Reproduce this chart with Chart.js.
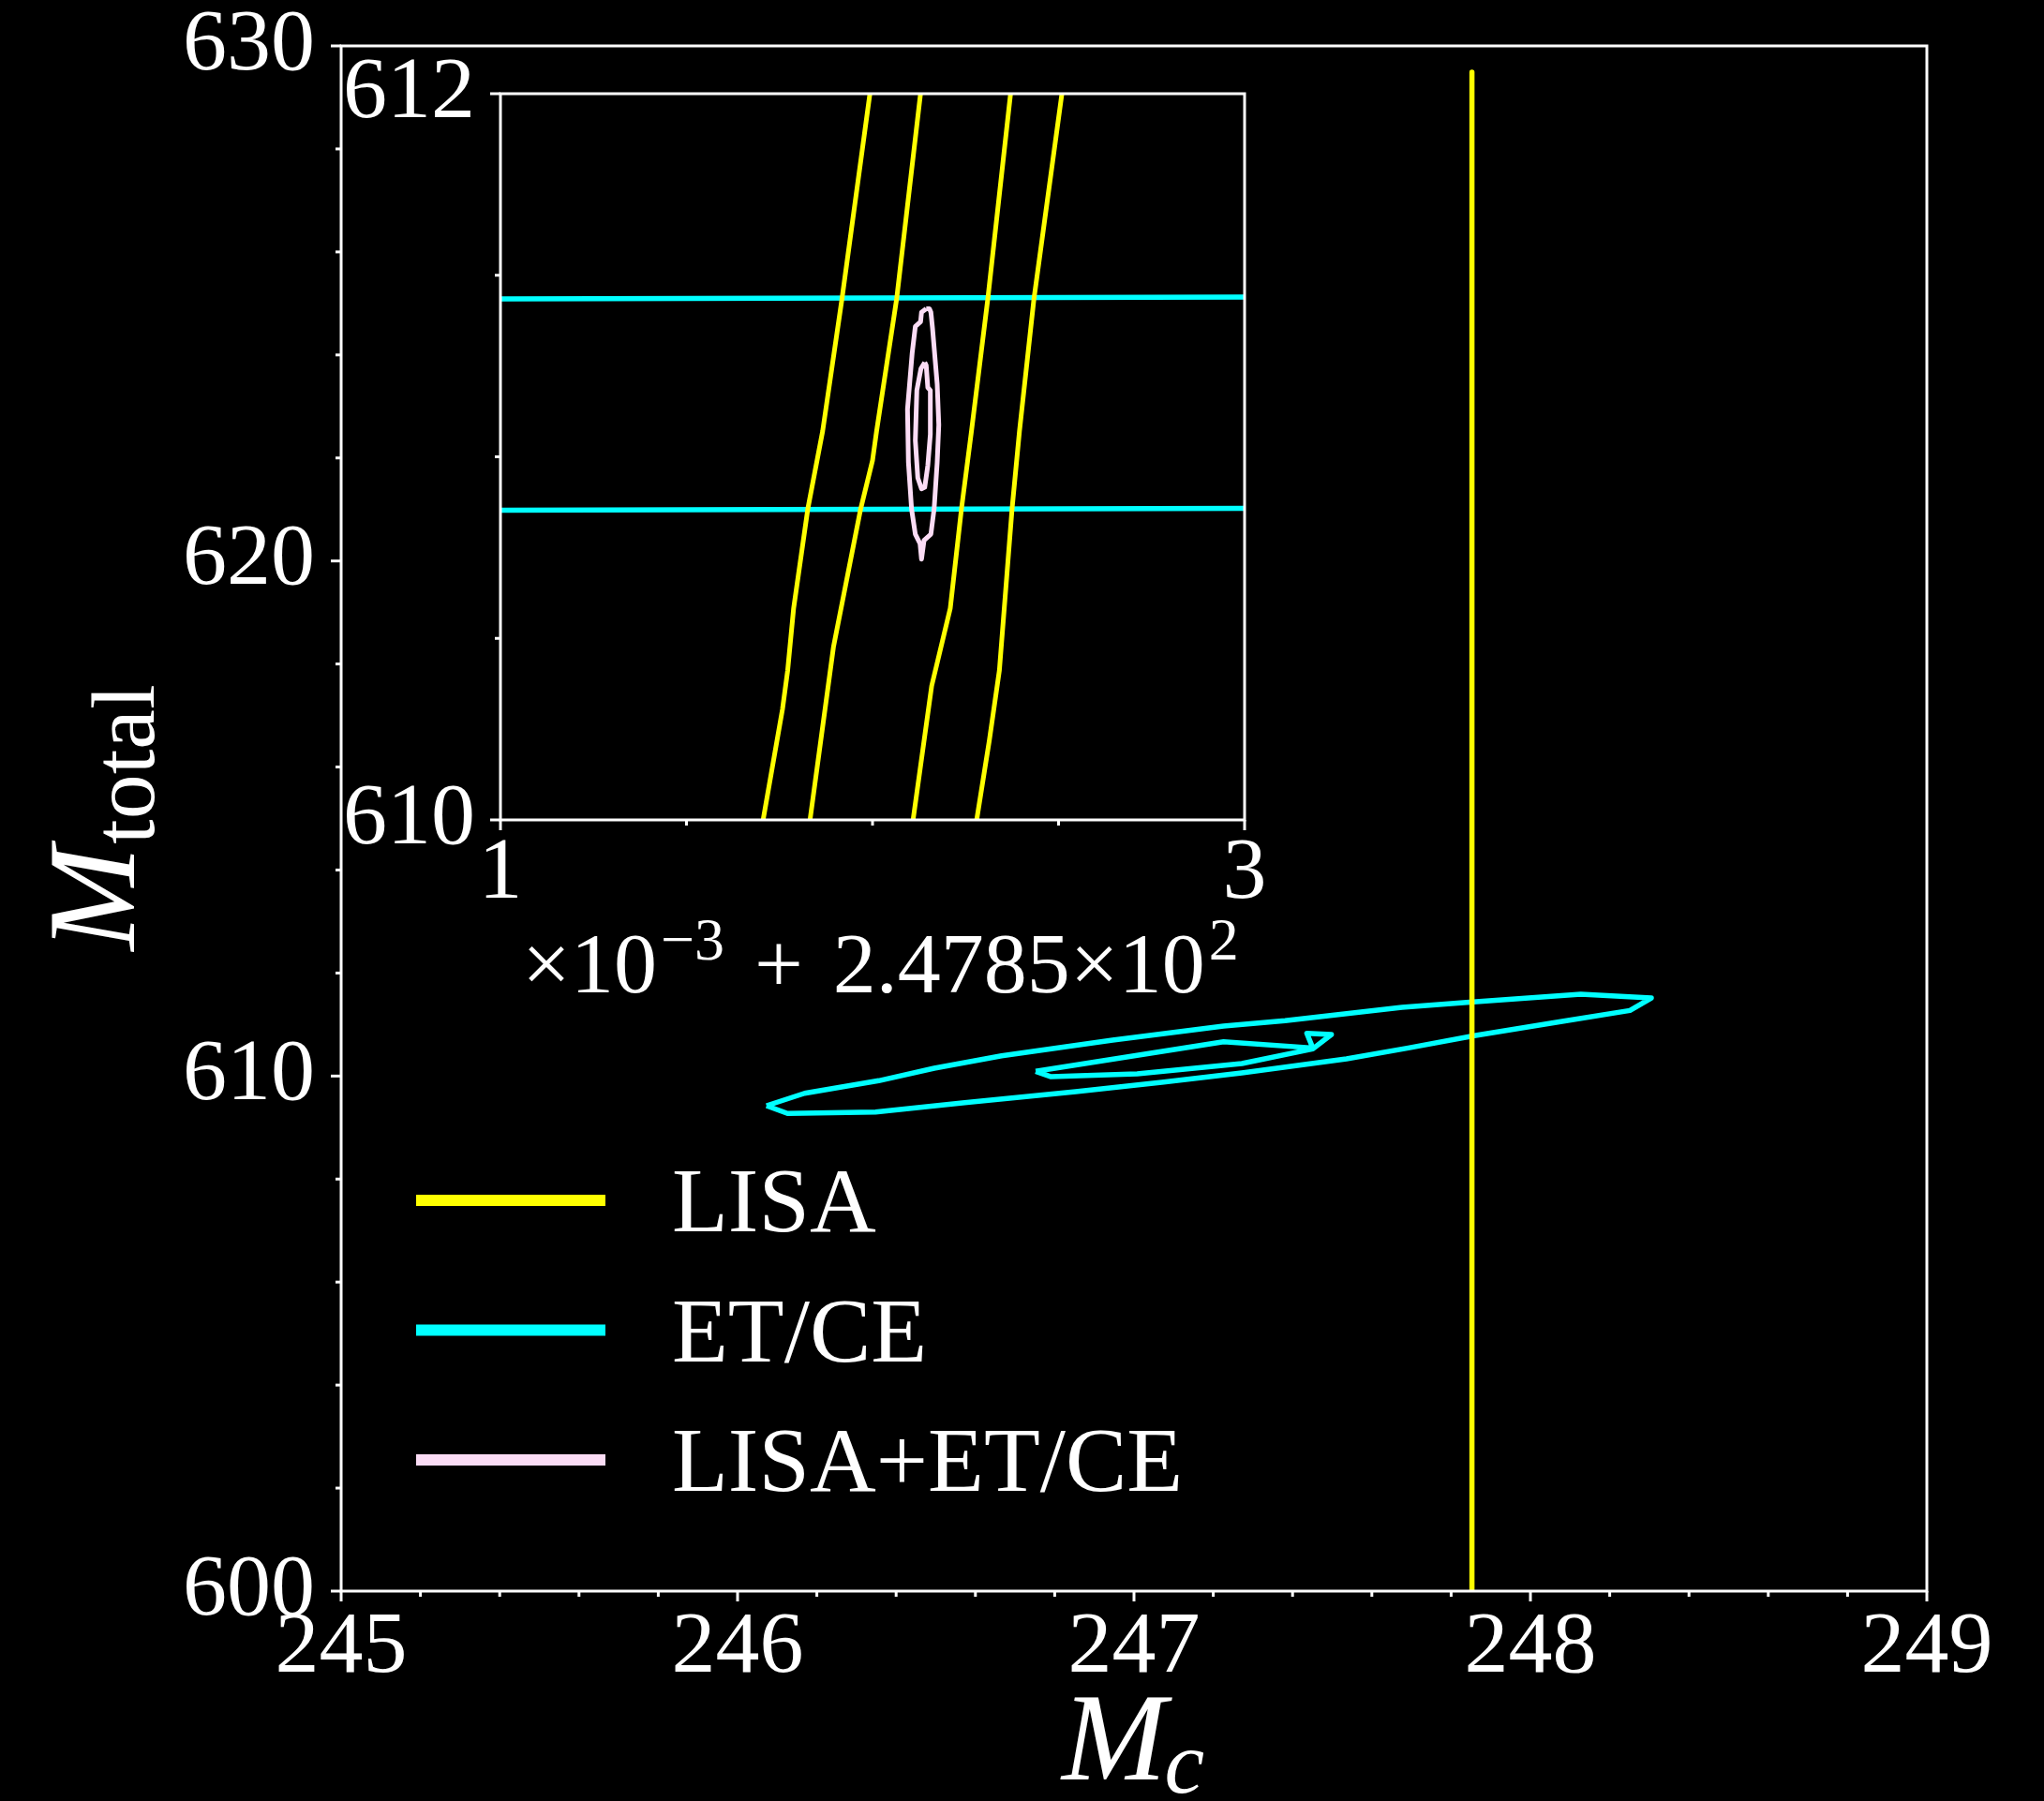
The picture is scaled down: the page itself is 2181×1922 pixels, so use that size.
<!DOCTYPE html>
<html>
<head>
<meta charset="utf-8">
<script src="https://cdn.jsdelivr.net/npm/chart.js@4.4.1/dist/chart.umd.min.js"></script>
<style>
  html, body { margin: 0; padding: 0; background: #000; overflow: hidden; }
  #wrap { position: relative; width: 2181px; height: 1922px; }
  #wrap canvas { position: absolute; left: 0; top: 0; }
</style>
</head>
<body>
<div id="wrap">
  <canvas id="mainPlot" width="2181" height="1922"></canvas>
  <canvas id="zoomPlot" width="2181" height="1922"></canvas>
</div>
<script>
// ---------------- series colours / names ----------------
const seriesNames  = ['LISA', 'ET/CE', 'LISA+ET/CE'];
const seriesColors = ['#ffff00', '#00ffff', '#fbdcf5'];

// ---------------- main panel: M_c vs M_total ----------------
const mcRange   = [245, 249];
const mtotRange = [600, 630];

// LISA: an extremely narrow band in M_c
const lisaMainMc = [247.8525, 247.8525];
const lisaMainMt = [629.49, 590.0];

// ET/CE outer contour
const etceOuterMc = [246.073, 246.169, 246.356, 246.496, 246.666, 246.946, 247.226, 247.381,
                     247.676, 247.847, 248.127, 248.305, 248.251, 248.080, 247.862, 247.692,
                     247.536, 247.272, 247.070, 246.853, 246.573, 246.348, 246.126, 246.073];
const etceOuterMt = [609.424, 609.665, 609.909, 610.151, 610.393, 610.697, 610.969, 611.073,
                     611.333, 611.436, 611.587, 611.515, 611.273, 611.060, 610.787, 610.545,
                     610.333, 610.060, 609.878, 609.696, 609.484, 609.302, 609.273, 609.424];

// ET/CE inner contour
const etceInnerMc = [246.752, 247.226, 247.451, 247.436, 247.498, 247.451, 247.272, 247.008, 246.791, 246.752];
const etceInnerMt = [610.091, 610.666, 610.545, 610.829, 610.806, 610.527, 610.242, 610.042, 609.987, 610.091];

// ---------------- inset: M_c in units of 1e-3 above 247.85 ----------------
const insetMcRange   = [1, 3];
const insetMtRange   = [610, 612];
const insetOffsetExp = -3;
const insetOffset    = '2.4785';
const insetOffsetPow = 2;

// LISA contour edges
const lisaZoom1Mc = [1.993, 1.918, 1.866, 1.826, 1.788, 1.772, 1.758, 1.706];
const lisaZoom1Mt = [612.0, 611.436, 611.071, 610.856, 610.583, 610.412, 610.305, 610.0];
const lisaZoom2Mc = [2.129, 2.065, 2.011, 2.000, 1.968, 1.895, 1.832];
const lisaZoom2Mt = [612.0, 611.436, 611.071, 610.990, 610.856, 610.476, 610.0];
const lisaZoom3Mc = [2.371, 2.310, 2.266, 2.239, 2.209, 2.159, 2.109];
const lisaZoom3Mt = [612.0, 611.436, 611.071, 610.856, 610.583, 610.369, 610.0];
const lisaZoom4Mc = [2.509, 2.434, 2.395, 2.375, 2.341, 2.314, 2.280];
const lisaZoom4Mt = [612.0, 611.436, 611.071, 610.856, 610.412, 610.219, 610.0];

// ET/CE contour edges crossing the inset
const etceZoomUpperMc = [1, 3];
const etceZoomUpperMt = [611.435, 611.440];
const etceZoomLowerMc = [1, 3];
const etceZoomLowerMt = [610.853, 610.858];

// combined LISA+ET/CE contours
const jointOuterMc = [2.1443, 2.1317, 2.1292, 2.1151, 2.1066, 2.0940, 2.0965, 2.1050, 2.1151, 2.1277, 2.1317,
                      2.1385, 2.1569, 2.1655, 2.1738, 2.1781, 2.1738, 2.1612, 2.1569, 2.1529, 2.1443];
const jointOuterMt = [611.408, 611.398, 611.372, 611.359, 611.286, 611.131, 610.985, 610.856, 610.787, 610.761, 610.718,
                      610.770, 610.787, 610.856, 610.985, 611.088, 611.200, 611.355, 611.398, 611.408, 611.408];
const jointInnerMc = [2.1403, 2.1302, 2.1191, 2.1151, 2.1217, 2.1317, 2.1403, 2.1486, 2.1554, 2.1554, 2.1486, 2.1443, 2.1403];
const jointInnerMt = [611.260, 611.243, 611.183, 611.045, 610.942, 610.912, 610.916, 610.976, 611.062, 611.183, 611.191, 611.252, 611.260];

// ---------------- helpers ----------------
const zip = (xs, ys) => xs.map((x, i) => ({ x, y: ys[i] }));
const near = (a, b) => Math.abs(a - b) < 1e-6;
const SERIF = '"Liberation Serif", "Times New Roman", serif';

function contour(xs, ys, color, width, cap) {
  return {
    data: zip(xs, ys),
    showLine: true,
    borderColor: color,
    borderWidth: width,
    borderCapStyle: cap || 'butt',
    borderJoinStyle: 'round',
    pointRadius: 0,
    fill: false,
    tension: 0
  };
}

// frame + outward tick marks (majors carry a label, minors do not)
const frameAndTicks = {
  id: 'frameAndTicks',
  afterDatasetsDraw(chart, args, o) {
    const { ctx, chartArea: a } = chart;
    const xs = chart.scales.x, ys = chart.scales.y;
    ctx.save();
    ctx.strokeStyle = '#ffffff';
    ctx.lineWidth = o.tickWidth;
    ctx.lineCap = 'butt';
    xs.ticks.forEach(t => {
      const len = t.label !== '' ? o.majorLen : o.minorLen;
      const px = xs.getPixelForValue(t.value);
      ctx.beginPath(); ctx.moveTo(px, a.bottom); ctx.lineTo(px, a.bottom + len); ctx.stroke();
    });
    ys.ticks.forEach(t => {
      const len = t.label !== '' ? o.majorLen : o.minorLen;
      const py = ys.getPixelForValue(t.value);
      ctx.beginPath(); ctx.moveTo(a.left, py); ctx.lineTo(a.left - len, py); ctx.stroke();
    });
    ctx.lineWidth = o.frameWidth;
    ctx.strokeRect(a.left, a.top, a.right - a.left, a.bottom - a.top);
    ctx.restore();
  }
};

// black page background
const pageBackground = {
  id: 'pageBackground',
  beforeDraw(chart) {
    const { ctx, width, height } = chart;
    ctx.save(); ctx.fillStyle = '#000'; ctx.fillRect(0, 0, width, height); ctx.restore();
  }
};

// axis titles M_c and M_total
const axisTitles = {
  id: 'axisTitles',
  afterDraw(chart) {
    const { ctx, chartArea: a } = chart;
    const big = 'italic 134px ' + SERIF;
    ctx.save();
    ctx.fillStyle = '#ffffff';
    ctx.textBaseline = 'alphabetic';
    ctx.textAlign = 'left';

    // x title
    ctx.font = big; const wM = ctx.measureText('M').width;
    ctx.font = 'italic 96px ' + SERIF; const wc = ctx.measureText('c').width;
    const x0 = (a.left + a.right) / 2 - (wM + wc) / 2;
    ctx.font = big; ctx.fillText('M', x0, a.bottom + 201);
    ctx.font = 'italic 96px ' + SERIF; ctx.fillText('c', x0 + wM - 2, a.bottom + 215);

    // y title (rotated)
    ctx.font = big; const wM2 = ctx.measureText('M').width;
    ctx.font = '96px ' + SERIF; const wt = ctx.measureText('total').width;
    ctx.translate(a.left - 221, (a.top + a.bottom) / 2);
    ctx.rotate(-Math.PI / 2);
    const s0 = -(wM2 + wt) / 2;
    ctx.font = big; ctx.fillText('M', s0, 0);
    ctx.font = '96px ' + SERIF; ctx.fillText('total', s0 + wM2 + 2, 21);
    ctx.restore();
  }
};

// legend in the lower-left of the main panel
const lineLegend = {
  id: 'lineLegend',
  afterDraw(chart) {
    const { ctx, chartArea: a } = chart;
    ctx.save();
    ctx.font = '98px ' + SERIF;
    ctx.textBaseline = 'alphabetic';
    ctx.textAlign = 'left';
    seriesNames.forEach((name, i) => {
      const y = a.bottom - 417 + i * 138.5;
      ctx.strokeStyle = seriesColors[i];
      ctx.lineWidth = 12;
      ctx.lineCap = 'butt';
      ctx.beginPath(); ctx.moveTo(a.left + 80, y); ctx.lineTo(a.left + 282, y); ctx.stroke();
      ctx.fillStyle = '#ffffff';
      ctx.fillText(name, a.left + 353, y + 33);
    });
    ctx.restore();
  }
};

// ---------------- main chart ----------------
new Chart(document.getElementById('mainPlot'), {
  type: 'scatter',
  data: {
    datasets: [
      contour(lisaMainMc, lisaMainMt, seriesColors[0], 5.5, 'round'),
      contour(etceOuterMc, etceOuterMt, seriesColors[1], 5.5),
      contour(etceInnerMc, etceInnerMt, seriesColors[1], 5.5)
    ]
  },
  options: {
    responsive: false,
    animation: false,
    devicePixelRatio: 1,
    layout: { padding: { left: 64, right: 125, top: 49, bottom: 94 } },
    plugins: {
      legend: { display: false },
      tooltip: { enabled: false },
      frameAndTicks: { tickWidth: 3, majorLen: 11, minorLen: 6, frameWidth: 3 }
    },
    scales: {
      x: {
        type: 'linear', min: mcRange[0], max: mcRange[1],
        grid: { display: false, drawTicks: false }, border: { display: false },
        ticks: {
          stepSize: 0.2, autoSkip: false, maxRotation: 0, minRotation: 0,
          color: '#ffffff', padding: 14,
          font: { family: SERIF, size: 94, lineHeight: 1 },
          callback: v => near(v, Math.round(v)) ? String(Math.round(v)) : ''
        },
        afterFit: s => { s.height = 130; }
      },
      y: {
        type: 'linear', min: mtotRange[0], max: mtotRange[1],
        grid: { display: false, drawTicks: false }, border: { display: false },
        ticks: {
          stepSize: 2, autoSkip: false,
          color: '#ffffff', padding: 28,
          font: { family: SERIF, size: 94, lineHeight: 0.2 },
          callback: v => near(v % 10, 0) || near(v % 10, 10) ? String(Math.round(v)) : ''
        },
        afterFit: s => { s.width = 300; }
      }
    }
  },
  plugins: [pageBackground, frameAndTicks, axisTitles, lineLegend]
});

// ---------------- inset chart ----------------
const insetBackground = {
  id: 'insetBackground',
  beforeDatasetsDraw(chart) {
    const { ctx, chartArea: a } = chart;
    ctx.save(); ctx.fillStyle = '#000';
    ctx.fillRect(a.left, a.top, a.right - a.left, a.bottom - a.top);
    ctx.restore();
  }
};

// offset text under the inset x axis:  ×10^-3 + 2.4785×10^2
const offsetText = {
  id: 'offsetText',
  afterDraw(chart) {
    const { ctx, chartArea: a } = chart;
    const base = '92px ' + SERIF, sup = '64px ' + SERIF;
    const y = a.bottom + 184, ySup = a.bottom + 149;
    ctx.save();
    ctx.fillStyle = '#ffffff';
    ctx.textBaseline = 'alphabetic';
    ctx.textAlign = 'left';
    let x = a.left + 23;
    const put = (txt, font, yy, gapAfter) => {
      ctx.font = font; ctx.fillText(txt, x, yy);
      x += ctx.measureText(txt).width + gapAfter;
    };
    put('\u00d710', base, y, 4);
    put('\u2212' + Math.abs(insetOffsetExp), sup, ySup, 32);
    put('+', base, y, 32);
    put(insetOffset + '\u00d710', base, y, 4);
    put(String(insetOffsetPow), sup, ySup, 0);
    ctx.restore();
  }
};

new Chart(document.getElementById('zoomPlot'), {
  type: 'scatter',
  data: {
    datasets: [
      contour(lisaZoom1Mc, lisaZoom1Mt, seriesColors[0], 5),
      contour(lisaZoom2Mc, lisaZoom2Mt, seriesColors[0], 5),
      contour(lisaZoom3Mc, lisaZoom3Mt, seriesColors[0], 5),
      contour(lisaZoom4Mc, lisaZoom4Mt, seriesColors[0], 5),
      contour(jointOuterMc, jointOuterMt, seriesColors[2], 5),
      contour(jointInnerMc, jointInnerMt, seriesColors[2], 5),
      contour(etceZoomUpperMc, etceZoomUpperMt, seriesColors[1], 5.5),
      contour(etceZoomLowerMc, etceZoomLowerMt, seriesColors[1], 5.5)
    ]
  },
  options: {
    responsive: false,
    animation: false,
    devicePixelRatio: 1,
    layout: { padding: { left: 344, right: 853, top: 100, bottom: 927 } },
    plugins: {
      legend: { display: false },
      tooltip: { enabled: false },
      frameAndTicks: { tickWidth: 3, majorLen: 11, minorLen: 6, frameWidth: 3 }
    },
    scales: {
      x: {
        type: 'linear', min: insetMcRange[0], max: insetMcRange[1],
        grid: { display: false, drawTicks: false }, border: { display: false },
        ticks: {
          stepSize: 0.5, autoSkip: false, maxRotation: 0, minRotation: 0,
          color: '#ffffff', padding: 11,
          font: { family: SERIF, size: 94, lineHeight: 1 },
          callback: v => (near(v, insetMcRange[0]) || near(v, insetMcRange[1])) ? String(Math.round(v)) : ''
        },
        afterFit: s => { s.height = 120; }
      },
      y: {
        type: 'linear', min: insetMtRange[0], max: insetMtRange[1],
        grid: { display: false, drawTicks: false }, border: { display: false },
        ticks: {
          stepSize: 0.5, autoSkip: false,
          color: '#ffffff', padding: 27,
          font: { family: SERIF, size: 94, lineHeight: 0.2 },
          callback: v => (near(v, insetMtRange[0]) || near(v, insetMtRange[1])) ? String(Math.round(v)) : ''
        },
        afterFit: s => { s.width = 190; }
      }
    }
  },
  plugins: [insetBackground, frameAndTicks, offsetText]
});
</script>
</body>
</html>
